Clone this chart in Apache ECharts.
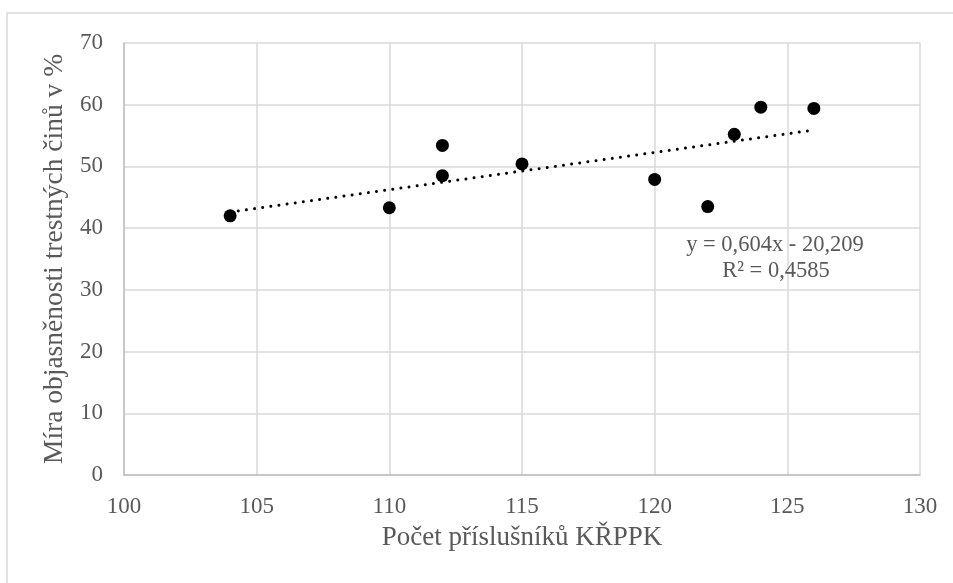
<!DOCTYPE html>
<html>
<head>
<meta charset="utf-8">
<script src="https://cdn.jsdelivr.net/npm/echarts@6/dist/echarts.min.js"></script>
<style>html,body{margin:0;padding:0;background:#fff}#c{width:953px;height:583px}</style>
</head>
<body>
<div id="c"></div>
<script>
const xValues = [104, 110, 112, 112, 115, 120, 122, 123, 124, 126];
const yValues = [42.0, 43.3, 53.4, 48.5, 50.4, 47.9, 43.5, 55.2, 59.6, 59.4];
const trendSlope = 0.604;
const trendIntercept = -20.209;
const trendRange = [104, 126];
const equationText = 'y = 0,604x - 20,209';
const r2Text = 'R² = 0,4585';
const xTitle = 'Počet příslušníků KŘPPK';
const yTitle = 'Míra objasněnosti trestných činů v %';

const points = xValues.map((x, i) => [x, yValues[i]]);
const trend = trendRange.map(x => [x, trendSlope * x + trendIntercept]);
const font = 'Liberation Serif';
const chart = echarts.init(document.getElementById('c'));
chart.setOption({
  animation: false,
  backgroundColor: '#fff',
  grid: {left: 124, right: 33, top: 43, bottom: 108},
  xAxis: {
    type: 'value', min: 100, max: 130, interval: 5,
    name: xTitle, nameLocation: 'middle', nameGap: 49,
    nameTextStyle: {fontFamily: font, fontSize: 27, color: '#595959'},
    axisLine: {lineStyle: {color: '#bfbfbf', width: 1.5}},
    axisTick: {show: false},
    axisLabel: {fontFamily: font, fontSize: 23, color: '#595959', margin: 20},
    splitLine: {lineStyle: {color: '#d9d9d9', width: 1.5}}
  },
  yAxis: {
    type: 'value', min: 0, max: 70, interval: 10,
    name: yTitle, nameLocation: 'middle', nameGap: 50,
    nameTextStyle: {fontFamily: font, fontSize: 27.5, color: '#595959'},
    axisLine: {show: true, lineStyle: {color: '#bfbfbf', width: 1.5}},
    axisTick: {show: false},
    axisLabel: {fontFamily: font, fontSize: 23, color: '#595959', margin: 21},
    splitLine: {lineStyle: {color: '#d9d9d9', width: 1.5}}
  },
  series: [
    {type: 'scatter', data: points, symbol: 'circle', symbolSize: 13,
     itemStyle: {color: '#000', opacity: 1}, z: 2},
    {type: 'line', data: trend, symbol: 'none', z: 3,
     lineStyle: {color: '#000', width: 3, type: [0.01, 8.2], cap: 'round'}}
  ],
  graphic: [
    {type: 'rect', shape: {x: 7, y: 13, width: 960, height: 600}, z: -1,
     style: {fill: 'none', stroke: '#d9d9d9', lineWidth: 1.5}},
    {type: 'text', x: 775, y: 245, z: 10,
     style: {text: equationText, font: '22.5px "Liberation Serif"', fill: '#595959', textAlign: 'center', textVerticalAlign: 'middle'}},
    {type: 'text', x: 776, y: 271, z: 10,
     style: {text: r2Text, font: '22.5px "Liberation Serif"', fill: '#595959', textAlign: 'center', textVerticalAlign: 'middle'}}
  ]
});
</script>
</body>
</html>
